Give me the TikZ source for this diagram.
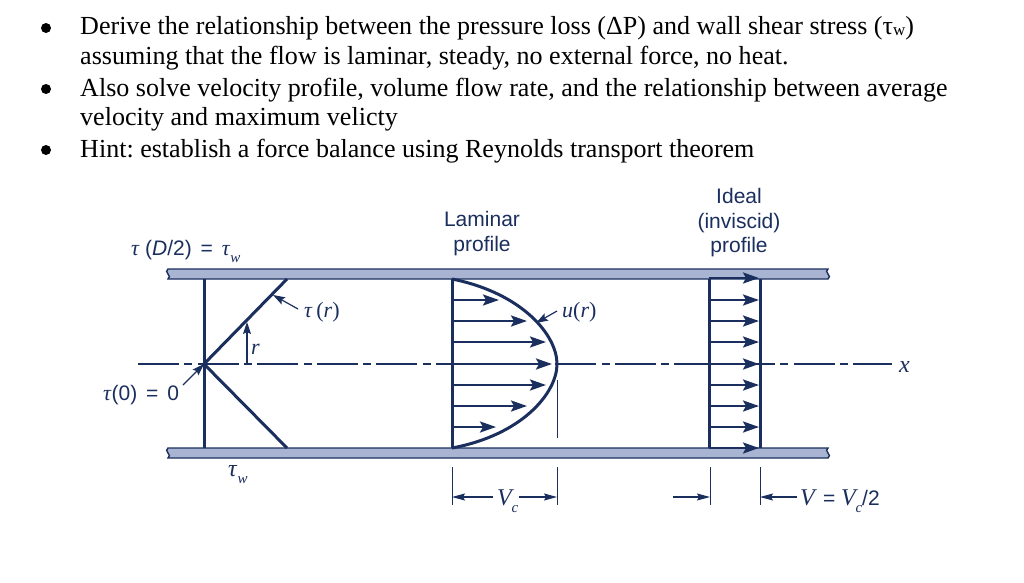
\documentclass[tikz,border=0pt]{standalone}
\usepackage{fontspec}
\setmainfont{Liberation Serif}
\newfontfamily\labelfont{Liberation Sans}
\usetikzlibrary{arrows.meta}
\definecolor{navy}{HTML}{1B2F5E}
\definecolor{band}{HTML}{A9B4D2}
\frenchspacing
\tikzset{
  x=1pt,y=-1pt,
  bodytext/.style={anchor=base west,inner sep=0pt,font=\fontsize{26.05}{30}\selectfont,text=black},
  sanslabel/.style={inner sep=0pt,align=center,text=navy,font=\labelfont\fontsize{21}{25}\selectfont},
  mathlabel/.style={inner sep=0pt,anchor=base west,text=navy,font=\fontsize{22}{26}\selectfont},
  heavy/.style={draw=navy,line width=3pt},
  medium/.style={draw=navy,line width=1.3pt},
  thin line/.style={draw=navy,line width=1pt},
  flow/.style={draw=navy,line width=2.4pt,-{Stealth[length=16pt,width=11pt,inset=3pt]}},
  pointer/.style={draw=navy,line width=1.2pt,-{Stealth[length=12pt,width=8pt,inset=2pt]}},
  dim/.style={draw=navy,line width=1.1pt,-{Stealth[length=13pt,width=7pt,inset=2pt]}},
  wall/.style={draw=navy,line width=1.4pt,fill=band},
}
\newcommand{\tauit}{\textit{τ}}
\newcommand{\sn}[1]{{\labelfont\fontsize{21}{25}\selectfont #1}}
\newcommand{\subit}[1]{\raisebox{-0.35em}{\fontsize{15}{15}\selectfont\textit{#1}}}
\newcommand{\bigV}{{\fontsize{24}{24}\selectfont\textit{V}}}
\begin{document}
\begin{tikzpicture}
\useasboundingbox (0,0) rectangle (1024,582);
\fill[white] (0,0) rectangle (1024,582);
% bullets
\foreach \yy in {28,89,150} \fill[black] (46,\yy) circle (5);
% text
\node[bodytext] (l1) at (80,34) {Derive the relationship between the pressure loss (ΔP) and wall shear stress (τ\raisebox{-0.05em}{\fontsize{17}{17}\selectfont w})};
\node[bodytext] (l2) at (80,64) {assuming that the flow is laminar, steady, no external force, no heat.};
\node[bodytext] (l3) at (80,96) {Also solve velocity profile, volume flow rate, and the relationship between average};
\node[bodytext] (l4) at (80,125) {velocity and maximum velicty};
\node[bodytext] (l5) at (80,157) {Hint: establish a force balance using Reynolds transport theorem};
% walls
\path[wall] (168,269) -- (828,269) .. controls (823,272) and (833,276) .. (828,279) -- (168,279) .. controls (173,276) and (163,272) .. (168,269) -- cycle;
\path[wall] (168,448) -- (828,448) .. controls (823,451) and (833,455) .. (828,458) -- (168,458) .. controls (173,455) and (163,451) .. (168,448) -- cycle;
% centre line
\coordinate (clL) at (138,364);
\coordinate (clR) at (892,364);
\draw[medium,dash pattern=on 41pt off 5.3pt on 8pt off 5.3pt] (clL) -- (clR);
% shear profile
\coordinate (s0) at (204,364);
\coordinate (sT) at (204,279);
\coordinate (sB) at (204,448);
\coordinate (sTr) at (287,279);
\coordinate (sBr) at (287,448);
\draw[heavy] (sT) -- (sB);
\draw[heavy] (sTr) -- (s0) -- (sBr);
\coordinate (rB) at (247,364);
\coordinate (rT) at (247,322);
\draw[pointer] (rB) -- (rT);
\node[mathlabel] (r) at (251,354) {\textit{r}};
\node[mathlabel] (taur) at (304,317) {\tauit\,(\textit{r})};
\coordinate (p1) at (298,309);
\coordinate (p1e) at (273,295);
\draw[pointer] (p1) -- (p1e);
\node[mathlabel] (tauD) at (131,255) {\tauit\ \sn{(\textit{D}/2)\hspace{3pt} =\hspace{3pt} }\tauit\subit{w}};
\node[mathlabel] (tau0) at (103,400) {\tauit\sn{(0)\hspace{3pt} =\hspace{3pt} 0}};
\coordinate (t0s) at (183,385);
\draw[pointer] (t0s) -- (s0);
\node[mathlabel] (tauw) at (228,476) {{\fontsize{24}{26}\selectfont\tauit}\subit{w}};
% laminar profile
\node[sanslabel] (lam) at (482,234) {Laminar\\[0pt]profile};
\coordinate (lT) at (452,279);
\coordinate (lB) at (452,448);
\coordinate (lA) at (557,364);
\draw[heavy] (lT) -- (lB);
\draw[heavy] (lT) .. controls (522,293) and (557,335) .. (lA) .. controls (557,393) and (522,435) .. (lB);
\foreach \yy/\xx in {300/499,321/527,342/546,364/552,385/546,406/527,427/496}
  \draw[flow] (452,\yy) -- (\xx,\yy);
\coordinate (lv1) at (557,380);
\coordinate (lv2) at (557,438);
\draw[thin line] (lv1) -- (lv2);
\node[mathlabel] (ur) at (562,317) {\textit{u}(\textit{r})};
\coordinate (p2) at (557,311);
\coordinate (p2e) at (536,323);
\draw[pointer] (p2) -- (p2e);
\draw[thin line] (452,467) -- (452,505) (557,467) -- (557,505);
\node[mathlabel] (vc) at (497,505) {\bigV\hspace{-2.5pt}\subit{c}};
\coordinate (p3) at (493,497);
\coordinate (p3e) at (452,497);
\coordinate (p4) at (519,497);
\coordinate (p4e) at (557,497);
\draw[dim] (p3) -- (p3e);
\draw[dim] (p4) -- (p4e);
% ideal profile
\node[sanslabel] (idl) at (739,223) {Ideal\\[-0.5pt](inviscid)\\[-0.5pt]profile};
\coordinate (iTL) at (709,279);
\coordinate (iBL) at (709,448);
\coordinate (iTR) at (760,279);
\coordinate (iBR) at (760,448);
\draw[heavy] (iTL) -- (iBL);
\draw[heavy] (iTR) -- (iBR);
\foreach \yy in {278,300,321,342,364,385,406,427,448}
  \draw[flow] (709,\yy) -- (759,\yy);
\draw[thin line] (710,467) -- (710,505) (760,467) -- (760,505);
\coordinate (da) at (673,497);
\coordinate (dae) at (710,497);
\draw[dim] (da) -- (dae);
\node[mathlabel] (vv) at (800,505) {\bigV\sn{ = }\bigV\hspace{-2.5pt}\subit{c}\sn{/2}};
\coordinate (p5) at (797,497);
\coordinate (p5e) at (760,497);
\draw[dim] (p5) -- (p5e);
\node[mathlabel] (x) at (899,372) {{\fontsize{24}{24}\selectfont\textit{x}}};
\end{tikzpicture}
\end{document}
